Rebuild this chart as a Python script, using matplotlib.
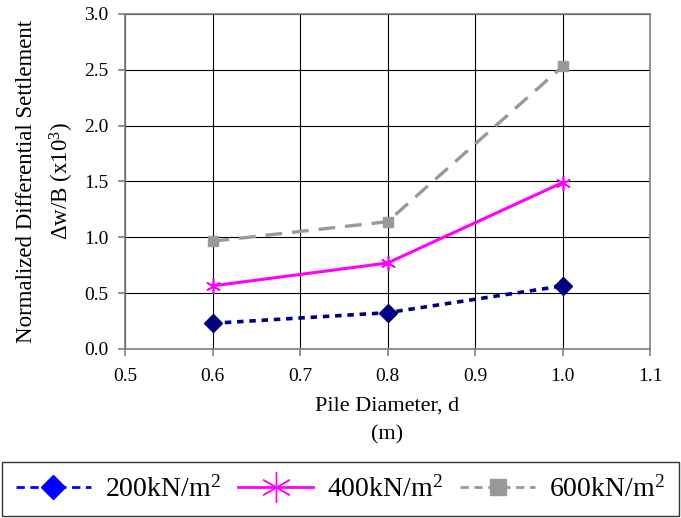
import matplotlib
matplotlib.use("Agg")
import matplotlib.pyplot as plt
from matplotlib.lines import Line2D
from matplotlib.ticker import MultipleLocator, FormatStrFormatter

# dados
diametro = [0.6, 0.8, 1.0]
s200 = [0.23, 0.325, 0.565]
s400 = [0.565, 0.77, 1.49]
s600 = [0.965, 1.14, 2.53]
rotulos = ["200kN/m$^2$", "400kN/m$^2$", "600kN/m$^2$"]

plt.rcParams["font.family"] = ["Liberation Serif", "DejaVu Serif"]
plt.rcParams["mathtext.fontset"] = "custom"
plt.rcParams["mathtext.rm"] = "Liberation Serif"
plt.rcParams["mathtext.it"] = "Liberation Serif"

fig = plt.figure(figsize=(6.81, 5.18), dpi=100)
ax = fig.add_axes([0.1836, 0.3263, 0.771, 0.6467])

ax.plot(diametro, s200, color="#000080", lw=2.6, ls=(0, (1.8, 1.6)),
        marker="D", ms=9, mfc="#000080", mec="#000080", zorder=4)
ax.plot(diametro, s400, color="#FF00FF", lw=2.2, ls="-",
        marker=(6, 2, 0), ms=11, mec="#FF00FF", mew=1.2, zorder=4)
ax.plot(diametro, s600, color="#999999", lw=2.4, ls=(0, (5, 3)),
        marker="s", ms=7, mfc="#999999", mec="#999999", zorder=4)

ax.set_xlim(0.5, 1.1)
ax.set_ylim(0, 3.0)
ax.xaxis.set_major_locator(MultipleLocator(0.1))
ax.yaxis.set_major_locator(MultipleLocator(0.5))
ax.xaxis.set_major_formatter(FormatStrFormatter("%.1f"))
ax.yaxis.set_major_formatter(FormatStrFormatter("%.1f"))
ax.grid(True, color="black", lw=0.8)
ax.set_axisbelow(True)
for s in ax.spines.values():
    s.set_color("#808080")
    s.set_linewidth(1.2)
ax.tick_params(axis="both", labelsize=14, color="#808080", width=1.2, length=5, pad=7)
ax.tick_params(axis="x", direction="out", pad=9)

ax.set_xlabel("Pile Diameter, d\n(m)", fontsize=16, linespacing=1.65, labelpad=8)
ax.set_ylabel("Normalized Differential Settlement\n$\\Delta$w/B (x10$^3$)",
              fontsize=16.5, linespacing=1.5, labelpad=6)

handles = [
    Line2D([], [], color="#0000FF", lw=2, ls=(0, (3, 2)), marker="D", ms=12,
           mfc="#0000FF", mec="#0000FF"),
    Line2D([], [], color="#FF00FF", lw=2, ls="-", marker=(6, 2, 0), ms=22,
           mec="#FF00FF", mew=1),
    Line2D([], [], color="#999999", lw=2, ls=(0, (3, 2)), marker="s", ms=11,
           mfc="#999999", mec="#999999"),
]
leg = fig.legend(handles, rotulos, loc="upper left", ncol=3,
                 bbox_to_anchor=(0.003, -0.1, 0.994, 0.208), mode="expand",
                 fontsize=20, frameon=True, fancybox=False, edgecolor="black",
                 handlelength=2.7, handletextpad=0.5, borderpad=0.5,
                 borderaxespad=0)
leg.get_frame().set_linewidth(1.0)

fig.savefig("out.png", dpi=100)
